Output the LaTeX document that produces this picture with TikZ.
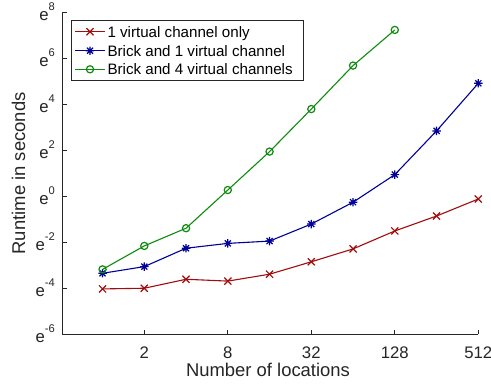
\documentclass[tikz,border=0pt]{standalone}
\usepackage{fontspec}
\setmainfont{Liberation Sans}
\usetikzlibrary{plotmarks}
\definecolor{axgray}{rgb}{0.15,0.15,0.15}
\definecolor{cred}{rgb}{0.63,0.05,0.05}
\definecolor{cblue}{rgb}{0.0,0.0,0.6}
\definecolor{cgreen}{rgb}{0.05,0.55,0.05}
\newcommand\tickE[1]{e\raisebox{10.3bp}{\fontsize{11.2}{12}\selectfont #1}}
\pgfdeclareplotmark{mstar}{%
  \pgfpathmoveto{\pgfqpoint{-\pgfplotmarksize}{0pt}}\pgfpathlineto{\pgfqpoint{\pgfplotmarksize}{0pt}}%
  \pgfpathmoveto{\pgfqpoint{0pt}{-\pgfplotmarksize}}\pgfpathlineto{\pgfqpoint{0pt}{\pgfplotmarksize}}%
  \pgfpathmoveto{\pgfqpoint{-.72\pgfplotmarksize}{-.72\pgfplotmarksize}}\pgfpathlineto{\pgfqpoint{.72\pgfplotmarksize}{.72\pgfplotmarksize}}%
  \pgfpathmoveto{\pgfqpoint{-.72\pgfplotmarksize}{.72\pgfplotmarksize}}\pgfpathlineto{\pgfqpoint{.72\pgfplotmarksize}{-.72\pgfplotmarksize}}%
  \pgfusepathqstroke}
\tikzset{
  axisline/.style={draw=axgray, line width=0.7bp},
  ticklab/.style={text=axgray, inner sep=0pt, font=\fontsize{16.8}{18}\selectfont},
  axlab/.style={text=axgray, inner sep=0pt, font=\fontsize{18.5}{20}\selectfont},
  leglab/.style={text=black, inner sep=0pt, anchor=base west, font=\fontsize{15.2}{17}\selectfont},
  redline/.style={draw=cred, line width=1.1bp, mark=x, mark size=5bp, mark options={solid,line width=1.2bp}},
  blueline/.style={draw=cblue, line width=1.1bp, mark=mstar, mark size=4.2bp, mark options={solid,line width=1.2bp}},
  greenline/.style={draw=cgreen, line width=1.1bp, mark=o, mark size=3.6bp, mark options={solid,line width=1.2bp}},
}
\begin{document}
\begin{tikzpicture}[x=1bp,y=1bp]
\useasboundingbox[fill=white] (0,0) rectangle (491,385);
% axes
\coordinate (o) at (62,51);
\coordinate (ytop) at (62,373);
\coordinate (xend) at (478.3,51);
\draw[axisline] (ytop) -- (o) -- (xend);
% y ticks
\foreach \v in {-6,-4,-2,0,2,4,6,8}{
  \pgfmathsetmacro\yy{189+23*\v}
  \draw[axisline] (62,\yy) -- (66.5,\yy);
  \node[ticklab, anchor=east] (yt\v) at (55,\yy) {\tickE{\v}};
}
% x ticks
\foreach \k/\lab in {1/2,3/8,5/32,7/128,9/512}{
  \pgfmathsetmacro\xx{102.55+41.75*\k}
  \draw[axisline] (\xx,51) -- (\xx,55.5);
  \node[ticklab] (xt\k) at (\xx,32.5) {\lab};
}
\node[axlab, anchor=base] (xlabel) at (268,8.3) {Number of locations};
\node[axlab, anchor=base, rotate=90] (ylabel) at (25,211.6) {Runtime in seconds};
% data
\begin{scope}[xshift=102.55bp, yshift=189bp, x=41.75bp, y=23bp]
\draw[redline] plot coordinates {(0,-4.04) (1,-4.01) (2,-3.62) (3,-3.70) (4,-3.40) (5,-2.86) (6,-2.30) (7,-1.52) (8,-0.87) (9,-0.13)};
\draw[blueline] plot coordinates {(0,-3.36) (1,-3.07) (2,-2.27) (3,-2.06) (4,-1.96) (5,-1.22) (6,-0.27) (7,0.93) (8,2.83) (9,4.90)};
\draw[greenline] plot coordinates {(0,-3.19) (1,-2.17) (2,-1.40) (3,0.26) (4,1.93) (5,3.78) (6,5.67) (7,7.22)};
\end{scope}
% legend
\node[draw=axgray, fill=white, line width=0.7bp, minimum width=231.7bp, minimum height=59.7bp, inner sep=0pt, anchor=north west] (legend) at (71,364.7) {};
\coordinate (l1a) at (75,353.3); \coordinate (l1m) at (90,353.3); \coordinate (l1b) at (105,353.3);
\coordinate (l2a) at (75,334.3); \coordinate (l2m) at (90,334.3); \coordinate (l2b) at (105,334.3);
\coordinate (l3a) at (75,315.7); \coordinate (l3m) at (90,315.7); \coordinate (l3b) at (105,315.7);
\draw[redline, mark=none] (l1a) -- (l1b);
\draw[blueline, mark=none] (l2a) -- (l2b);
\draw[greenline, mark=none] (l3a) -- (l3b);
\draw[redline, only marks] plot coordinates {(l1m)};
\draw[blueline, only marks] plot coordinates {(l2m)};
\draw[greenline, only marks] plot coordinates {(l3m)};
\node[leglab] (t1) at (107.3,347.9) {1 virtual channel only};
\node[leglab] (t2) at (107.3,328.9) {Brick and 1 virtual channel};
\node[leglab] (t3) at (107.3,310.3) {Brick and 4 virtual channels};
\end{tikzpicture}
\end{document}
